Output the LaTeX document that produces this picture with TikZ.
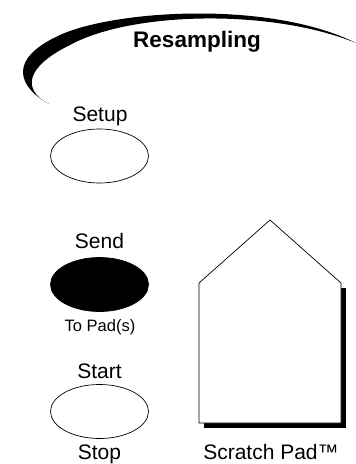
\documentclass[tikz,border=0pt]{standalone}
\usepackage{fontspec}
\setmainfont{Liberation Sans}
\usetikzlibrary{shapes.geometric, positioning}
\tikzset{
  button/.style={draw, ellipse, minimum width=98pt, minimum height=54pt, inner sep=0pt, line width=0.7pt},
  caption/.style={anchor=base, inner sep=0pt, font=\fontsize{21}{25}\selectfont},
}
\begin{document}
\begin{tikzpicture}[x=1pt, y=-1pt]
\useasboundingbox (0,0) rectangle (356,464);
% swoosh
\fill (49,104) .. controls (20,88) and (5,60) .. (60,35)
  .. controls (115,10) and (270,0) .. (356,43)
  .. controls (270,8) and (130,12) .. (70,45)
  .. controls (25,67) and (22,90) .. (49,104) -- cycle;
\node[caption, font=\bfseries\fontsize{22.5}{26}\selectfont] (title) at (197,47) {Resampling};
% buttons
\node[button] (setup) at (99.5,156) {};
\node[button, fill=black] (send) at (99.5,284.5) {};
\node[button] (start) at (99.5,411.5) {};
\node[caption] (setuplbl) at (100,121) {Setup};
\node[caption] (sendlbl) at (99.5,248) {Send};
\node[caption, font=\fontsize{16.5}{20}\selectfont] (padslbl) at (100,331) {To Pad(s)};
\node[caption] (startlbl) at (99.5,378) {Start};
\node[caption] (stoplbl) at (99.5,459) {Stop};
% scratch pad
\fill (204,288) rectangle (346,428);
\draw[fill=white, line width=0.7pt] (199,283) -- (270,220) -- (341,283) -- (341,423) -- (199,423) -- cycle;
\node[caption] (padlbl) at (271,459) {Scratch Pad™};
\end{tikzpicture}
\end{document}
